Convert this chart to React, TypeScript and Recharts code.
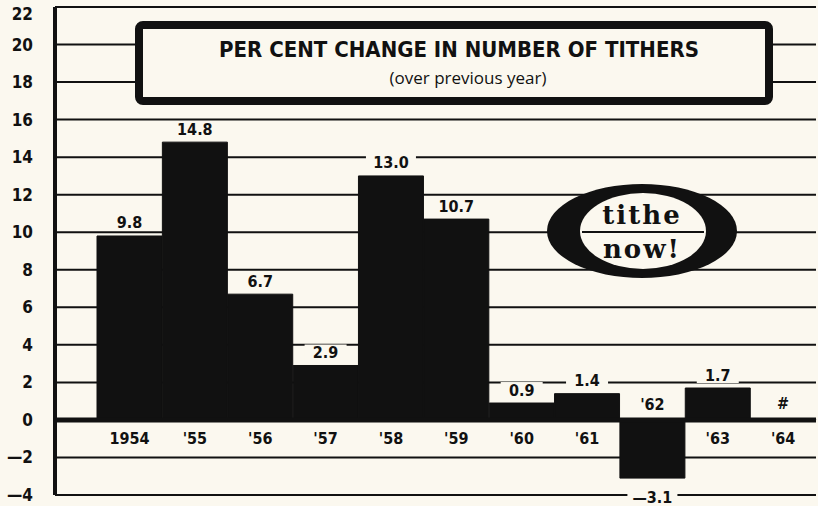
import React from 'react';
import {
  BarChart,
  Bar,
  XAxis,
  YAxis,
  CartesianGrid,
  ReferenceLine,
  LabelList,
  Customized,
} from 'recharts';

// ---- data ----
const years = ['1954', "'55", "'56", "'57", "'58", "'59", "'60", "'61", "'62", "'63", "'64"];
const changes = [9.8, 14.8, 6.7, 2.9, 13.0, 10.7, 0.9, 1.4, -3.1, 1.7, 0];
const valueLabels = ['9.8', '14.8', '6.7', '2.9', '13.0', '10.7', '0.9', '1.4', '\u20143.1', '1.7', '#'];
const yTicks = [-4, -2, 0, 2, 4, 6, 8, 10, 12, 14, 16, 18, 20, 22];
const titleText = 'PER CENT CHANGE IN NUMBER OF TITHERS';
const subtitleText = '(over previous year)';
const logoWords = ['tithe', 'now!'];

const data = years.map((year, i) => ({ year, change: changes[i], label: valueLabels[i] }));

// ---- styles ----
const PAPER = '#fbf8ef';
const INK = '#111111';
const COND = "'Liberation Sans Narrow', 'DejaVu Sans Condensed', 'Roboto Condensed', sans-serif";

const fmtTick = (v: number) => (v < 0 ? '\u2014' + Math.abs(v) : String(v));

const YTick = (props: any) => {
  const { x, y, payload } = props;
  const ty = Math.max(y, 14);
  return (
    <text
      x={x}
      y={ty}
      textAnchor="end"
      dominantBaseline="central"
      fontFamily={COND}
      fontWeight="bold"
      fontSize={17}
      fill={INK}
    >
      {fmtTick(payload.value)}
    </text>
  );
};

const ValueLabel = (props: any) => {
  const { x, y, width, height, index } = props;
  const top = Math.min(y, y + height);
  const bottom = Math.max(y, y + height);
  const v = changes[index];
  const cx = x + width / 2;
  const ty = v > 0 ? top - 13 : v < 0 ? bottom + 19 : top - 15;
  const text = valueLabels[index];
  const w = text.length * 8 + 18;
  return (
    <g>
      <rect x={cx - w / 2} y={ty - 8} width={w} height={16} fill={PAPER} />
      <text
        x={cx}
        y={ty}
        textAnchor="middle"
        dominantBaseline="central"
        fontFamily={COND}
        fontWeight="bold"
        fontSize={16}
        fill={INK}
      >
        {text}
      </text>
    </g>
  );
};

const YearLabel = (props: any) => {
  const { x, y, width, height, index } = props;
  const top = Math.min(y, y + height);
  const bottom = Math.max(y, y + height);
  const v = changes[index];
  const cx = x + width / 2;
  const zero = v >= 0 ? bottom : top;
  const ty = v >= 0 ? zero + 19 : zero - 15;
  return (
    <text
      x={cx}
      y={ty}
      textAnchor="middle"
      dominantBaseline="central"
      fontFamily={COND}
      fontWeight="bold"
      fontSize={16}
      fill={INK}
    >
      {years[index]}
    </text>
  );
};

const Decor = () => (
  <g>
    {/* title box */}
    <rect x={139} y={25} width={630} height={76} rx={4} fill={PAPER} stroke={INK} strokeWidth={8} />
    <text
      x={459}
      y={49}
      textAnchor="middle"
      dominantBaseline="central"
      fontFamily={COND}
      fontWeight="bold"
      fontSize={22}
      fill={INK}
    >
      {titleText}
    </text>
    <text
      x={468}
      y={77}
      textAnchor="middle"
      dominantBaseline="central"
      fontFamily="'Liberation Sans Narrow', 'Open Sans', sans-serif"
      fontSize={17}
      fill={INK}
    >
      {subtitleText}
    </text>
    {/* logo */}
    <ellipse cx={642} cy={231} rx={95} ry={47} fill={INK} />
    <ellipse cx={643} cy={231} rx={63} ry={38} fill={PAPER} />
    <line x1={582} x2={704} y1={232} y2={232} stroke={INK} strokeWidth={2} />
    <text
      x={642}
      y={215}
      textAnchor="middle"
      dominantBaseline="central"
      fontFamily="'DejaVu Serif', serif"
      fontWeight={600}
      fontSize={26}
      letterSpacing={2}
      fill={INK}
    >
      {logoWords[0]}
    </text>
    <text
      x={642}
      y={249}
      textAnchor="middle"
      dominantBaseline="central"
      fontFamily="'DejaVu Serif', serif"
      fontWeight={600}
      fontSize={26}
      letterSpacing={2}
      fill={INK}
    >
      {logoWords[1]}
    </text>
  </g>
);

export default function App() {
  return (
    <div style={{ position: 'absolute', left: 0, top: 0, width: 818, height: 506, background: PAPER }}>
      <BarChart
        width={818}
        height={506}
        data={data}
        margin={{ top: 7, right: 2, bottom: 11, left: 0 }}
        barCategoryGap={0}
        barGap={0}
      >
        <CartesianGrid horizontal vertical={false} stroke={INK} strokeWidth={2} />
        <XAxis dataKey="year" hide padding={{ left: 42, right: 0 }} />
        <YAxis
          type="number"
          domain={[-4, 22]}
          ticks={yTicks}
          interval={0}
          width={55}
          tickLine={false}
          tickSize={0}
          tickMargin={22}
          axisLine={{ stroke: INK, strokeWidth: 4 }}
          tick={<YTick />}
        />
        <Bar
          dataKey="change"
          fill={INK}
          stroke={INK}
          strokeWidth={1}
          minPointSize={(value: number) => (value === 0 ? 1 : 0)}
          isAnimationActive={false}
        >
          <LabelList dataKey="label" content={ValueLabel} />
          <LabelList dataKey="year" content={YearLabel} />
        </Bar>
        <ReferenceLine y={0} stroke={INK} strokeWidth={5} />
        <Customized component={Decor} />
      </BarChart>
    </div>
  );
}
